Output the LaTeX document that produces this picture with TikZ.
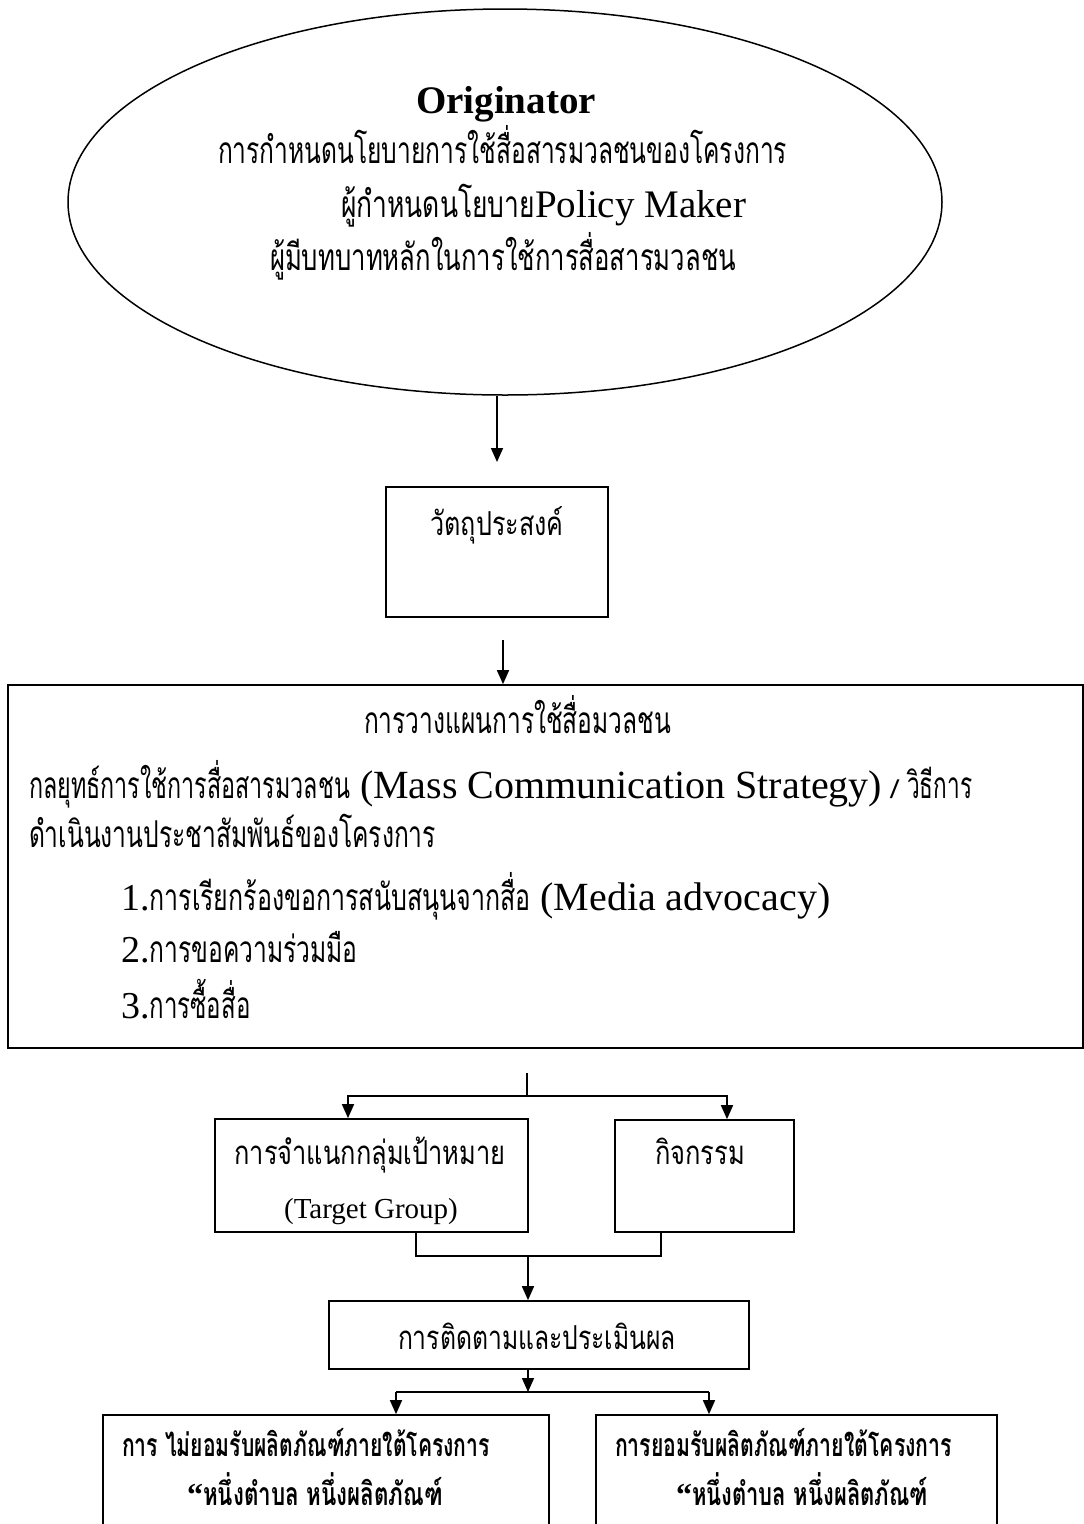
\documentclass[tikz,border=0pt]{standalone}
\usepackage{fontspec}
\usepackage{graphicx}
\setmainfont{Liberation Serif}
\newfontfamily\thf[Script=Thai]{Loma}
\usetikzlibrary{shapes.geometric,arrows.meta}
\newcommand{\tw}[2]{\resizebox{#1pt}{\height}{\thf #2}}
\newcommand{\fs}[1]{\fontsize{#1}{#1}\selectfont}
\begin{document}
\begin{tikzpicture}[x=1pt,y=-1pt,
  box/.style={draw, line width=1.7pt, inner sep=0pt, rectangle},
  txt/.style={inner sep=0pt, outer sep=0pt},
  ln/.style={line width=1.6pt},
  arr/.style={line width=1.6pt, -{Triangle[length=14pt,width=12pt]}}]
\useasboundingbox (0,0) rectangle (1084,1524);
\clip (0,0) rectangle (1084,1524);
% ellipse
\node[draw, ellipse, line width=1.5pt, minimum width=874pt, minimum height=386pt, inner sep=0pt] (ell) at (505,202) {};
\node[txt, anchor=base] (orig) at (506,113) {\fs{39}\bfseries Originator};
\node[txt, anchor=base west] (e2) at (218,163) {\fs{37}\tw{569}{การกำหนดนโยบายการใช้สื่อสารมวลชนของโครงการ}};
\node[txt, anchor=base west] (e3) at (341,217) {\fs{37}\tw{194}{ผู้กำหนดนโยบาย}\fs{39}Policy Maker};
\node[txt, anchor=base west] (e4) at (270,270) {\fs{37}\tw{466}{ผู้มีบทบาทหลักในการใช้การสื่อสารมวลชน}};
% objective box
\node[box, minimum width=222pt, minimum height=130pt] (obj) at (497,552) {};
\node[txt, anchor=base] (objt) at (497,535) {\fs{33}\tw{133}{วัตถุประสงค์}};
% big box
\node[box, minimum width=1075pt, minimum height=363pt] (big) at (545.5,866.5) {};
\node[txt, anchor=base west] (b1) at (364,733) {\fs{37}\tw{307}{การวางแผนการใช้สื่อมวลชน}};
\node[txt, anchor=base west] (b2) at (29,798) {\fs{37}\tw{321}{กลยุทธ์การใช้การสื่อสารมวลชน}\fs{40} (Mass Communication Strategy)\fs{26}{\thf\ / }\fs{37}\tw{65}{วิธีการ}};
\node[txt, anchor=base west] (b3) at (29,847) {\fs{37}\tw{407}{ดำเนินงานประชาสัมพันธ์ของโครงการ}};
\node[txt, anchor=base west] (b4) at (121,910) {\fs{38}1.\fs{37}\tw{381}{การเรียกร้องขอการสนับสนุนจากสื่อ}\fs{40} (Media advocacy)};
\node[txt, anchor=base west] (b5) at (121,962) {\fs{38}2.\fs{37}\tw{208}{การขอความร่วมมือ}};
\node[txt, anchor=base west] (b6) at (121,1018) {\fs{38}3.\fs{37}\tw{101}{การซื้อสื่อ}};
% target group and activity
\node[box, minimum width=313pt, minimum height=113pt] (tg) at (371.5,1175.5) {};
\node[txt, anchor=base] (tg1) at (370,1164) {\fs{33}\tw{271}{การจำแนกกลุ่มเป้าหมาย}};
\node[txt, anchor=base] (tg2) at (371,1218) {\fs{29}(Target Group)};
\node[box, minimum width=179pt, minimum height=112pt] (act) at (704.5,1176) {};
\node[txt, anchor=base] (actt) at (700,1164) {\fs{33}\tw{90}{กิจกรรม}};
% evaluation
\node[box, minimum width=420pt, minimum height=68pt] (ev) at (539,1335) {};
\node[txt, anchor=base] (evt) at (537,1349) {\fs{33}\tw{278}{การติดตามและประเมินผล}};
% bottom boxes
\node[box, minimum width=446pt, minimum height=145pt] (bl) at (326,1487.5) {};
\node[txt, anchor=base west] (bl1) at (122,1456) {\fs{32}\tw{368}{\bfseries การ ไม่ยอมรับผลิตภัณฑ์ภายใต้โครงการ}};
\node[txt, anchor=base west] (bl2) at (187,1505) {\fs{32}\bfseries “\tw{240}{\bfseries หนึ่งตำบล หนึ่งผลิตภัณฑ์}};
\node[box, minimum width=401pt, minimum height=145pt] (br) at (796.5,1487.5) {};
\node[txt, anchor=base west] (br1) at (615,1456) {\fs{32}\tw{337}{\bfseries การยอมรับผลิตภัณฑ์ภายใต้โครงการ}};
\node[txt, anchor=base west] (br2) at (676,1505) {\fs{32}\bfseries “\tw{236}{\bfseries หนึ่งตำบล หนึ่งผลิตภัณฑ์}};
% connectors
\coordinate (a1e) at (497,462);
\draw[arr] (ell.south -| obj.north) -- (a1e);
\coordinate (a2s) at (503,640);
\draw[arr] (a2s) -- (a2s |- big.north);
\coordinate (c3) at (527,1073);
\coordinate (j1) at (527,1096);
\coordinate (jl) at (348,1096);
\coordinate (jr) at (727,1096);
\draw[ln] (c3) -- (j1);
\draw[arr] (j1) -| (jl |- tg.north);
\draw[arr] (j1) -| (jr |- act.north);
\coordinate (m1) at (416,1256);
\coordinate (m2) at (661,1256);
\coordinate (m3) at (528,1256);
\draw[ln] (m1 |- tg.south) -- (m1) -- (m2) -- (m2 |- act.south);
\draw[arr] (m3) -- (m3 |- ev.north);
\coordinate (j2) at (528,1392);
\coordinate (kl) at (396,1392);
\coordinate (kr) at (709,1392);
\draw[arr] (m3 |- ev.south) -- (j2);
\draw[ln] (kl) -- (kr);
\draw[arr] (kl) -- (kl |- bl.north);
\draw[arr] (kr) -- (kr |- br.north);
\end{tikzpicture}
\end{document}
